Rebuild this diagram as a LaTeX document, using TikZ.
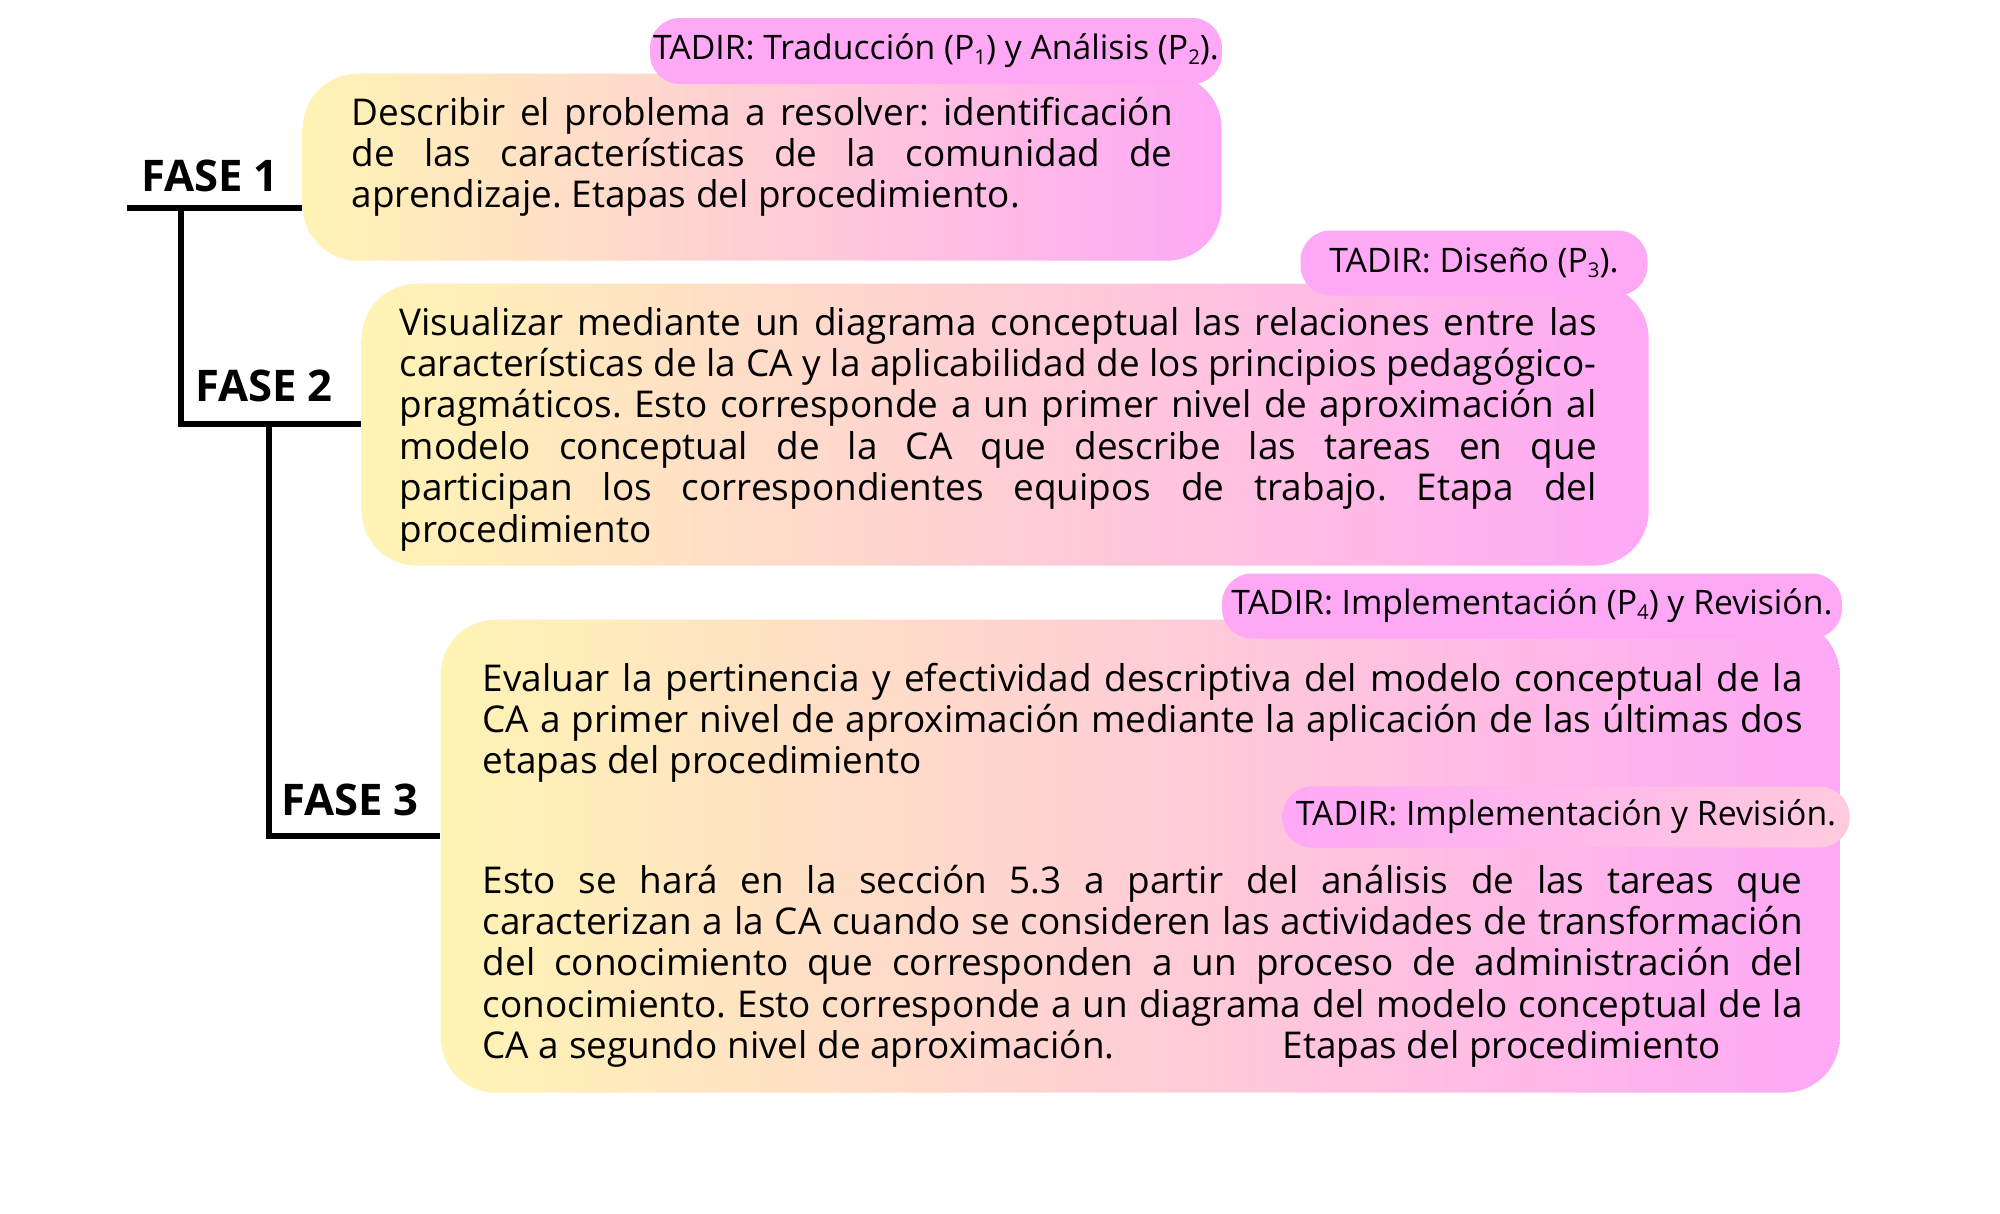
\documentclass[tikz,border=0pt]{standalone}
\usepackage{fontspec}
\setmainfont{Open Sans}
\usetikzlibrary{positioning}

\definecolor{faseyellow}{RGB}{255,244,180}
\definecolor{fasepink}{RGB}{255,168,246}
\definecolor{taglight}{RGB}{255,202,222}

\hyphenpenalty=10000
\frenchspacing
\newcommand\psub[1]{\raisebox{-0.25ex}{\fontsize{5.8}{6}\selectfont#1}}

\tikzset{
  phasebox/.style={rounded corners=5.5mm, left color=faseyellow, right color=fasepink, draw=none, inner sep=0pt, anchor=north west},
  tadir/.style={rounded corners=3mm, fill=fasepink, inner sep=0pt, font=\fontsize{9.6}{11}\selectfont},
  bodytext/.style={inner sep=0pt, align=justify, anchor=base west, font=\fontsize{10.5}{11.8}\selectfont},
  fase/.style={anchor=base, font=\fontsize{12.4}{14}\selectfont\bfseries},
  branch/.style={line width=1.5pt}
}

\begin{document}
\begin{tikzpicture}[x=0.1mm, y=-0.1mm]
  \useasboundingbox (0,0) rectangle (2000,1214);

  % boxes
  \node[phasebox, minimum width=91.9mm, minimum height=18.7mm] (box1) at (302,73) {};
  \node[phasebox, minimum width=128.7mm, minimum height=28.2mm] (box2) at (361,283) {};
  \node[phasebox, minimum width=139.9mm, minimum height=47.3mm] (box3) at (440,619) {};

  % TADIR tags
  \node[tadir, minimum width=57.2mm, minimum height=6.6mm] (tag1) at (936,51) {TADIR: Traducción (P\psub{1}) y Análisis (P\psub{2}).};
  \node[tadir, minimum width=34.7mm, minimum height=6.5mm] (tag2) at (1474,263) {TADIR: Diseño (P\psub{3}).};
  \node[tadir, minimum width=62mm, minimum height=6.5mm] (tag3) at (1532,606) {TADIR: Implementación (P\psub{4}) y Revisión.};
  \node[tadir, left color=fasepink, right color=taglight, minimum width=56.7mm, minimum height=6.1mm] (tag4) at (1566,817) {TADIR: Implementación y Revisión.};

  % texts
  \node[bodytext, text width=82.1mm] (txt1) at (351,125) {Describir el problema a resolver: identificación\linebreak de las características de la comunidad de\linebreak aprendizaje. Etapas del procedimiento.};
  \node[bodytext, text width=119.7mm] (txt2) at (399,335) {Visualizar mediante un diagrama conceptual las relaciones entre las\linebreak características de la CA y la aplicabilidad de los principios pedagógico-\linebreak pragmáticos. Esto corresponde a un primer nivel de aproximación al\linebreak modelo conceptual de la CA que describe las tareas en que\linebreak participan los correspondientes equipos de trabajo. Etapa del\linebreak procedimiento};
  \node[bodytext, text width=132mm] (txt3) at (482,691) {Evaluar la pertinencia y efectividad descriptiva del modelo conceptual de la\linebreak CA a primer nivel de aproximación mediante la aplicación de las últimas dos\linebreak etapas del procedimiento};
  \node[bodytext, text width=132mm] (txt4) at (482,893) {Esto se hará en la sección 5.3 a partir del análisis de las tareas que\linebreak caracterizan a la CA cuando se consideren las actividades de transformación\linebreak del conocimiento que corresponden a un proceso de administración del\linebreak conocimiento. Esto corresponde a un diagrama del modelo conceptual de la\linebreak CA a segundo nivel de aproximación.\hspace{16.8mm}Etapas del procedimiento};

  % phases
  \node[fase] (fase1) at (210,192) {FASE 1};
  \node[fase] (fase2) at (264,401) {FASE 2};
  \node[fase] (fase3) at (350,815) {FASE 3};

  % branches
  \coordinate (root) at (127,208);
  \coordinate (j1) at (181,208);
  \coordinate (j2) at (269,424);
  \coordinate (j3) at (269,836);
  \draw[branch] (root) -- (root -| box1.west);
  \draw[branch] (j1) |- (j2 -| box2.west);
  \draw[branch] (j2) -- (j3) -- (j3 -| box3.west);
\end{tikzpicture}
\end{document}
